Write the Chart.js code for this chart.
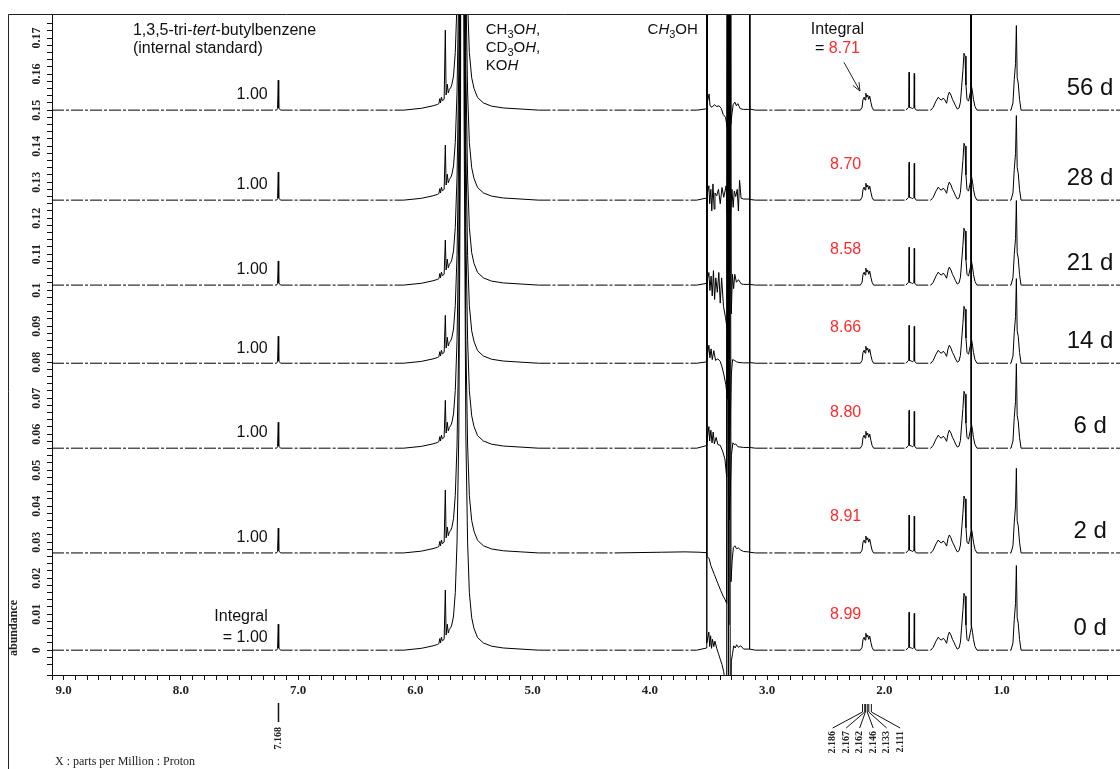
<!DOCTYPE html>
<html>
<head>
<meta charset="utf-8">
<script src="https://cdn.jsdelivr.net/npm/chart.js@4.4.0/dist/chart.umd.min.js"></script>
<style>
  html, body { margin: 0; padding: 0; background: #fff; }
</style>
</head>
<body>
<canvas id="nmr" width="1120" height="769"></canvas>
<script>
// stacked 1H spectra, bottom (0 d) to top (56 d)
const days = ['0 d', '2 d', '6 d', '14 d', '21 d', '28 d', '56 d'];
const offsets = [0, 0.027, 0.0561, 0.0797, 0.1014, 0.125, 0.15];
const integrals = ['8.99', '8.91', '8.80', '8.66', '8.58', '8.70', '8.71'];

// internal standard peak (7.168 ppm) and the sharp line at 5.745 ppm
const stdHeight = [0.0072, 0.0069, 0.0072, 0.0075, 0.0067, 0.0078, 0.0083];
const spikeHeight = [0.0167, 0.0175, 0.0133, 0.0133, 0.0125, 0.0153, 0.0222];

const stdPeak = [[7.185, 0], [7.176, 0.0004], [7.166, 0.0006], [7.158, 0.0003], [7.150, 0]];

// big OH peak around 5.6 ppm (off scale)
const waterPeak = [
  [6.10, 0], [5.95, 0.0005], [5.85, 0.0012], [5.81, 0.0016],
  [5.69, 0.0070], [5.675, 0.0095], [5.66, 0.016], [5.645, 0.030], [5.63, 0.06],
  [5.615, 0.15], [5.605, 0.4], [5.595, 0.4], [5.585, 0.15], [5.57, 0.06],
  [5.555, 0.030], [5.54, 0.016], [5.52, 0.009], [5.50, 0.006], [5.47, 0.0035],
  [5.42, 0.0020], [5.35, 0.0011], [5.25, 0.0006], [5.10, 0.0003], [4.95, 0]
];
const vinylShape = [
  [5.800, 0.0018], [5.792, 0.0032], [5.786, 0.0020], [5.778, 0.0036], [5.770, 0.0026],
  [5.755, 0.0030], [5.738, 0.0042], [5.728, 0.0072], [5.720, 0.0048], [5.710, 0.0058], [5.700, 0.0062]
];

// CH3OH region, different in every spectrum
const mr0 = [
  [3.60, 0], [3.53, 0.0005], [3.516, 0.0006], [3.515, 0.3], [3.514, 0.0020], [3.497, 0.0050], [3.490, 0.0010],
  [3.482, 0.0040], [3.474, 0.0005], [3.466, 0.0030], [3.455, 0.0010], [3.445, 0.0025],
  [3.430, 0.0005], [3.415, -0.0010], [3.400, -0.0025], [3.385, -0.0040], [3.370, -0.0060],
  [3.355, -0.0100], [3.345, -0.0200], [3.338, 0.3], [3.330, -0.0400], [3.322, 0.3],
  [3.314, -0.0400], [3.305, -0.0030], [3.295, -0.0010], [3.285, 0.0012], [3.272, 0.0006],
  [3.260, 0.0015], [3.245, 0.0008], [3.225, 0.0012], [3.20, 0.0003], [3.151, 0.0003], [3.150, 0.3], [3.149, 0.0003], [3.10, 0]
];
const mr2 = [
  [4.30, 0], [3.90, 0.0002], [3.70, 0.0003], [3.58, 0.0002], [3.53, 0.0001],
  [3.516, 0.0001], [3.515, 0.3], [3.514, -0.0010], [3.495, -0.0015], [3.480, -0.0035],
  [3.450, -0.0060], [3.420, -0.0085], [3.395, -0.0105], [3.375, -0.0120], [3.358, -0.0130],
  [3.345, -0.0140], [3.336, 0.3], [3.326, -0.0200], [3.318, 0.3],
  [3.308, -0.0080], [3.298, -0.0020], [3.288, 0.0015], [3.275, 0.0020], [3.262, 0.0012],
  [3.245, 0.0014], [3.225, 0.0008], [3.20, 0.0004], [3.16, 0.0003], [3.151, 0.0003], [3.150, 0.3], [3.149, 0.0002], [3.10, 0]
];
const mr6 = [
  [3.60, 0], [3.53, 0.0006], [3.516, 0.0008], [3.515, 0.3], [3.514, 0.0015], [3.497, 0.0060], [3.490, 0.0020],
  [3.480, 0.0050], [3.470, 0.0015], [3.460, 0.0045], [3.450, 0.0012], [3.435, 0.0030],
  [3.420, 0.0010], [3.400, 0.0008], [3.380, -0.0008], [3.360, -0.0030], [3.345, -0.0080],
  [3.334, 0.3], [3.324, -0.0200], [3.314, -0.0120], [3.305, -0.0020], [3.292, 0.0015],
  [3.280, 0.0010], [3.268, 0.0012], [3.250, 0.0004], [3.20, 0.0002], [3.151, 0.0002], [3.150, 0.3], [3.149, 0.0002], [3.10, 0]
];
const mr14 = [
  [3.60, 0], [3.53, 0.0003], [3.516, 0.0004], [3.515, 0.3], [3.514, 0.0010], [3.497, 0.0050], [3.488, 0.0015],
  [3.478, 0.0040], [3.468, 0.0010], [3.455, 0.0035], [3.440, 0.0008], [3.420, 0.0012],
  [3.400, 0.0005], [3.385, -0.0010], [3.370, -0.0030], [3.352, -0.0060], [3.338, -0.0100],
  [3.332, 0.3], [3.322, -0.0220], [3.313, -0.0150], [3.305, -0.0030], [3.295, 0.0010],
  [3.280, 0.0008], [3.262, 0.0004], [3.24, 0.0002], [3.20, 0.0001], [3.151, 0.0001], [3.150, 0.3], [3.149, 0.0002], [3.10, 0]
];
const mr21 = [
  [3.60, 0], [3.53, 0.0004], [3.516, 0.0005], [3.515, 0.3], [3.514, 0.0008], [3.497, 0.0035], [3.488, -0.0015],
  [3.478, 0.0025], [3.468, -0.0030], [3.458, 0.0040], [3.448, -0.0040], [3.438, 0.0020],
  [3.425, -0.0020], [3.412, 0.0035], [3.400, -0.0050], [3.388, 0.0020], [3.372, -0.0060],
  [3.355, -0.0090], [3.342, -0.0120], [3.336, 0.3], [3.326, -0.0160], [3.316, 0.3],
  [3.306, -0.0080], [3.296, 0.0030], [3.286, -0.0010], [3.276, 0.0030], [3.262, 0.0008],
  [3.245, 0.0015], [3.220, 0.0003], [3.20, 0.0002], [3.151, 0.0002], [3.150, 0.3], [3.149, 0.0002], [3.10, 0]
];
const mr28 = [
  [3.60, 0], [3.53, 0.0005], [3.516, 0.0005], [3.515, 0.3], [3.514, 0.0010], [3.497, 0.0040], [3.490, -0.0010],
  [3.480, 0.0030], [3.472, -0.0030], [3.462, 0.0045], [3.452, -0.0025], [3.445, 0.0020],
  [3.430, 0.0012], [3.415, 0.0030], [3.400, -0.0010], [3.385, 0.0035], [3.370, 0.0008],
  [3.350, 0.0040], [3.338, -0.0060], [3.330, 0.3], [3.322, -0.0150], [3.312, -0.0040],
  [3.300, 0.0030], [3.290, -0.0020], [3.280, 0.0025], [3.268, 0.0010], [3.255, 0.0030],
  [3.245, -0.0030], [3.235, 0.0055], [3.222, 0.0005], [3.20, 0.0003], [3.151, 0.0003], [3.150, 0.3], [3.149, 0.0002], [3.10, 0]
];
const mr56 = [
  [3.60, 0], [3.53, 0.0003], [3.516, 0.0004], [3.515, 0.3], [3.514, 0.0015], [3.495, 0.0045], [3.487, 0.0012],
  [3.47, 0.0008], [3.45, 0.0015], [3.43, 0.0010], [3.41, 0.0012], [3.39, 0.0004],
  [3.375, -0.0012], [3.355, -0.0020], [3.340, -0.0050], [3.333, 0.3], [3.326, -0.0062],
  [3.318, 0.3], [3.310, -0.0040], [3.300, -0.0010], [3.290, 0.0015], [3.275, 0.0022],
  [3.262, 0.0012], [3.25, 0.0018], [3.23, 0.0004], [3.20, 0.0002], [3.151, 0.0002], [3.150, 0.3], [3.149, 0.0003], [3.10, 0]
];
const methanolRegions = [mr0, mr2, mr6, mr14, mr21, mr28, mr56];

// aliphatic signals, the same in all spectra
const aliphaticPeaks = [
  [2.205, 0], [2.190, 0.0008], [2.182, 0.0030], [2.172, 0.0036], [2.165, 0.0028], [2.158, 0.0047],
  [2.150, 0.0036], [2.142, 0.0042], [2.133, 0.0030], [2.125, 0.0039], [2.115, 0.0022], [2.105, 0.0008], [2.092, 0],
  [1.815, 0], [1.800, 0.0006], [1.792, 0.0008], [1.789, 0.0105], [1.786, 0.0008], [1.770, 0.0006],
  [1.758, 0.0004], [1.748, 0.0008], [1.745, 0.0102], [1.742, 0.0006], [1.728, 0],
  [1.603, 0], [1.583, 0.0008], [1.560, 0.0025], [1.540, 0.0036], [1.526, 0.0030], [1.511, 0.0028],
  [1.500, 0.0033], [1.487, 0.0030], [1.469, 0.0019], [1.457, 0.0040], [1.446, 0.0050], [1.432, 0.0042],
  [1.419, 0.0030], [1.406, 0.0022], [1.393, 0.0012], [1.378, 0.0003], [1.363, 0.0006], [1.351, 0.0022],
  [1.341, 0.0064], [1.330, 0.0110], [1.321, 0.0158], [1.312, 0.0150], [1.304, 0.0070], [1.295, 0.0030],
  [1.282, 0.0025], [1.266, 0.0050], [1.260, 0.0060], [1.259, 0.3], [1.258, 0.0070], [1.248, 0.0050],
  [1.240, 0.0030], [1.227, 0.0010], [1.210, 0],
  [0.920, 0], [0.903, 0.0020], [0.892, 0.0085], [0.881, 0.0130], [0.874, 0.0235], [0.867, 0.0090],
  [0.858, 0.0075], [0.847, 0.0030], [0.834, 0]
];

const multipletPpm = ['2.186', '2.167', '2.162', '2.146', '2.133', '2.111'];

function buildSpectrum(i) {
  const pts = [[9.1, 0], [-0.01, 0], [7.170, stdHeight[i]], [5.745, spikeHeight[i]]]
    .concat(stdPeak, waterPeak, vinylShape, methanolRegions[i], aliphaticPeaks);
  pts.sort((a, b) => b[0] - a[0]);
  return pts.map(p => ({ x: p[0], y: offsets[i] + p[1] }));
}

const datasets = days.map((d, i) => ({
  label: d,
  data: buildSpectrum(i),
  borderColor: '#000',
  borderWidth: 1,
  pointRadius: 0,
  tension: 0,
  segment: {
    // flat baseline stretches look dash-dotted in the plot
    borderDash: ctx => (ctx.p0.parsed.y === offsets[i] && ctx.p1.parsed.y === offsets[i]) ? [12, 2, 3, 2] : undefined
  }
}));

function rich(ctx, parts, x0, y0, size, align) {
  const fam = '"Liberation Sans", Arial, sans-serif';
  const fontOf = s => (s === 'i' ? 'italic ' : '') + (s === 's' ? Math.round(size * 0.7) : size) + 'px ' + fam;
  let total = 0;
  parts.forEach(p => { ctx.font = fontOf(p[1]); total += ctx.measureText(p[0]).width; });
  let x = align === 'center' ? x0 - total / 2 : (align === 'right' ? x0 - total : x0);
  ctx.textAlign = 'left';
  ctx.textBaseline = 'middle';
  parts.forEach(p => {
    ctx.font = fontOf(p[1]);
    ctx.fillStyle = p[2] || '#111';
    ctx.fillText(p[0], x, p[1] === 's' ? y0 + size * 0.3 : y0);
    x += ctx.measureText(p[0]).width;
  });
}

const annotations = {
  id: 'annotations',
  afterDraw(chart) {
    const { ctx, chartArea: ca } = chart;
    const xs = chart.scales.x, ys = chart.scales.y;
    const px = v => xs.getPixelForValue(v), py = v => ys.getPixelForValue(v);
    ctx.save();

    // outer frame
    ctx.strokeStyle = '#222';
    ctx.lineWidth = 1;
    ctx.beginPath();
    ctx.moveTo(8.5, chart.height);
    ctx.lineTo(8.5, ca.top + 0.5);
    ctx.lineTo(chart.width, ca.top + 0.5);
    ctx.stroke();

    // y tick labels, rotated
    ctx.fillStyle = '#222';
    ctx.font = 'bold 12px "Liberation Serif", serif';
    ys.ticks.forEach(t => {
      const k = Math.round(t.value * 100);
      if (Math.abs(t.value * 100 - k) > 1e-6 || k < 0 || k > 17) return;
      const lbl = k === 0 ? '0' : String(parseFloat((k / 100).toFixed(2)));
      ctx.save();
      ctx.translate(37, py(t.value));
      ctx.rotate(-Math.PI / 2);
      ctx.textAlign = 'center';
      ctx.textBaseline = 'middle';
      ctx.fillText(lbl, 0, 0);
      ctx.restore();
    });
    ctx.save();
    ctx.translate(14, 628);
    ctx.rotate(-Math.PI / 2);
    ctx.textAlign = 'center';
    ctx.textBaseline = 'middle';
    ctx.font = 'bold 12px "Liberation Serif", serif';
    ctx.fillText('abundance', 0, 0);
    ctx.restore();

    ctx.font = '12px "Liberation Serif", serif';
    ctx.textAlign = 'left';
    ctx.textBaseline = 'middle';
    ctx.fillText('X : parts per Million : Proton', 55, chart.height - 7);

    // compound labels
    rich(ctx, [['1,3,5-tri-'], ['tert', 'i'], ['-butylbenzene']], px(8.41), py(0.1722), 16, 'left');
    rich(ctx, [['(internal standard)']], px(8.41), py(0.1672), 16, 'left');
    rich(ctx, [['CH'], ['3', 's'], ['O'], ['H', 'i'], [',']], px(5.40), py(0.1722), 15, 'left');
    rich(ctx, [['CD'], ['3', 's'], ['O'], ['H', 'i'], [',']], px(5.40), py(0.1672), 15, 'left');
    rich(ctx, [['KO'], ['H', 'i']], px(5.40), py(0.1622), 15, 'left');
    rich(ctx, [['C'], ['H', 'i'], ['3', 's'], ['OH']], px(4.02), py(0.1722), 15, 'left');

    // integrals
    const red = '#ff2a2a';
    rich(ctx, [['Integral']], px(2.40), py(0.1725), 16, 'center');
    rich(ctx, [['= '], ['8.71', '', red]], px(2.40), py(0.1672), 16, 'center');
    for (let i = 0; i < 6; i++) {
      rich(ctx, [[integrals[i], '', red]], px(2.33), py(offsets[i] + 0.0100), 16, 'center');
    }
    for (let i = 1; i < 7; i++) {
      rich(ctx, [['1.00']], px(7.26), py(offsets[i] + 0.0042), 16, 'right');
    }
    rich(ctx, [['Integral']], px(7.26), py(0.0092), 16, 'right');
    rich(ctx, [['= 1.00']], px(7.26), py(0.0036), 16, 'right');

    // arrow to the 56 d multiplet
    const ax0 = px(2.345), ay0 = py(0.1633), ax1 = px(2.208), ay1 = py(0.1553);
    const ang = Math.atan2(ay1 - ay0, ax1 - ax0);
    ctx.strokeStyle = '#222';
    ctx.beginPath();
    ctx.moveTo(ax0, ay0); ctx.lineTo(ax1, ay1);
    ctx.moveTo(ax1 - 9 * Math.cos(ang - 0.4), ay1 - 9 * Math.sin(ang - 0.4));
    ctx.lineTo(ax1, ay1);
    ctx.lineTo(ax1 - 9 * Math.cos(ang + 0.4), ay1 - 9 * Math.sin(ang + 0.4));
    ctx.stroke();

    // day labels
    days.forEach((d, i) => rich(ctx, [[d]], px(0.245), py(offsets[i] + 0.006), 24, 'center'));

    // peak picking labels under the axis
    const b = ca.bottom;
    ctx.strokeStyle = '#111';
    ctx.lineWidth = 1.5;
    ctx.beginPath();
    ctx.moveTo(px(7.168), b + 28); ctx.lineTo(px(7.168), b + 47);
    ctx.stroke();
    const vlabel = (s, x, y) => {
      ctx.save();
      ctx.translate(x, y);
      ctx.rotate(-Math.PI / 2);
      ctx.font = 'bold 10px "Liberation Serif", serif';
      ctx.fillStyle = '#222';
      ctx.textAlign = 'right';
      ctx.textBaseline = 'middle';
      ctx.fillText(s, 0, 0);
      ctx.restore();
    };
    vlabel('7.168', px(7.168), b + 52);
    ctx.lineWidth = 1;
    const cx = multipletPpm.reduce((s, p) => s + px(+p), 0) / multipletPpm.length;
    multipletPpm.forEach((p, k) => {
      const tx = px(+p), lx = cx - 34 + k * 13.5;
      ctx.beginPath();
      ctx.moveTo(tx, b + 29); ctx.lineTo(tx, b + 37); ctx.lineTo(lx, b + 53);
      ctx.stroke();
      vlabel(p, lx, b + 56);
    });
    ctx.restore();
  }
};

new Chart(document.getElementById('nmr'), {
  type: 'line',
  data: { datasets },
  options: {
    responsive: false,
    animation: false,
    layout: { padding: { top: 14, left: 0, right: 0, bottom: 0 } },
    plugins: { legend: { display: false }, tooltip: { enabled: false } },
    scales: {
      x: {
        type: 'linear',
        reverse: true,
        min: -0.01,
        max: 9.1,
        border: { display: true, color: '#111', width: 1 },
        grid: { drawOnChartArea: false, drawTicks: true, tickLength: 5, color: '#111' },
        ticks: {
          stepSize: 0.1,
          autoSkip: false,
          maxRotation: 0,
          padding: 3,
          color: '#222',
          font: { family: '"Liberation Serif", serif', size: 13, weight: 'bold' },
          callback: v => {
            const r = Math.round(v);
            if (Math.abs(v - r) > 1e-6 || r < 0 || r > 9) return '';
            return r === 0 ? '0' : r.toFixed(1);
          }
        },
        afterFit: s => { s.height = 94; s.paddingLeft = 0; s.paddingRight = 0; }
      },
      y: {
        min: -0.0069,
        max: 0.1767,
        border: { display: true, color: '#111', width: 1 },
        grid: { drawOnChartArea: false, drawTicks: true, tickLength: 5, color: '#111' },
        ticks: { stepSize: 0.002, display: false },
        afterFit: s => { s.width = 52; s.paddingTop = 0; s.paddingBottom = 0; }
      }
    }
  },
  plugins: [annotations]
});
</script>
</body>
</html>
